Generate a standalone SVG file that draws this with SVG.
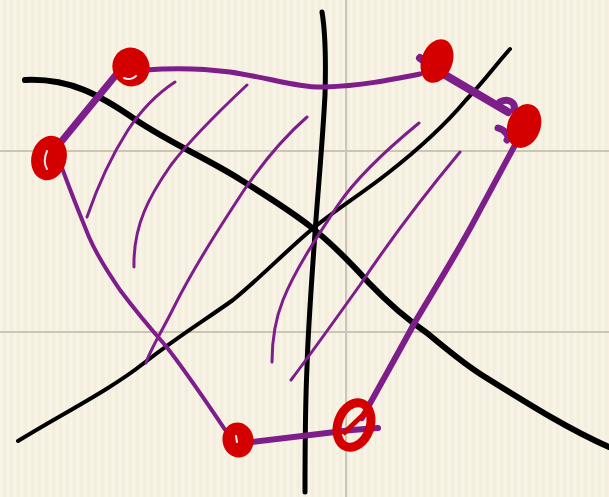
<svg xmlns="http://www.w3.org/2000/svg" width="609" height="497" viewBox="0 0 609 497">
<defs>
<pattern id="paper" width="7" height="497" patternUnits="userSpaceOnUse">
<rect width="7" height="497" fill="#f6f0e1"/>
<rect x="0" width="2" height="497" fill="#f9f4e8"/>
<rect x="4" width="1" height="497" fill="#f2ecdc"/>
</pattern>
<style>
.grid{stroke:#cbc5b6;stroke-width:2;fill:none}
.ink{stroke:#000;fill:none;stroke-linecap:round;stroke-linejoin:round}
.edge{stroke:#7d1e8b;fill:none;stroke-linecap:round;stroke-linejoin:round}
.hatch{stroke:#7d1e8b;fill:none;stroke-width:3;stroke-linecap:round}
.dot{fill:#d40000;stroke:#d40000;stroke-width:3}
.gap{stroke:#f1e8f0;stroke-width:2;fill:none;stroke-linecap:round}
</style>
</defs>
<rect width="609" height="497" fill="url(#paper)"/>
<line class="grid" x1="0" y1="151" x2="609" y2="151"/>
<line class="grid" x1="0" y1="332" x2="609" y2="332"/>
<line class="grid" x1="346" y1="0" x2="346" y2="497"/>

<g id="axes">
<path class="ink" stroke-width="6" d="M25,80 C70,78 100,95 136,120 C170,143 210,160 241,180 C270,198 292,212 311,227 C330,242 350,262 369,283 C390,305 405,318 427,333 C450,352 465,365 485,377 C530,405 570,430 609,447"/>
<path class="ink" stroke-width="4" d="M18,441 C60,415 110,390 144,363 C180,335 205,320 233,300 C260,278 285,252 311,230 C335,210 360,195 388,173 C420,148 445,125 466,100 C485,80 498,62 510,49"/>
<path class="ink" stroke-width="5" d="M322,12 C325,30 326,60 325,95 C322,150 318,190 315,233 C311,290 308,330 307,367 C305,410 305,450 305,492"/>
</g>

<g id="hatching">
<path class="hatch" d="M175,82 C155,95 140,112 128,130 C112,155 98,185 87,217"/>
<path class="hatch" d="M247,85 C215,115 190,140 171,165 C150,195 133,225 134,267"/>
<path class="hatch" d="M307,117 C275,145 250,180 233,207 C205,250 185,285 175,305 C160,335 150,350 146,363"/>
<path class="hatch" d="M419,123 C380,155 355,180 338,205 C315,240 295,270 283,300 C275,320 272,340 272,362"/>
<path class="hatch" d="M460,152 C420,200 390,240 360,285 C335,320 310,355 291,380"/>
</g>

<g id="connectors">
<path class="edge" stroke-width="5" d="M145,70 C170,68 200,68 230,72 C270,78 300,88 325,87 C360,86 390,80 420,74"/>
<path class="edge" stroke-width="7" d="M120,70 L56,148"/>
<path class="edge" stroke-width="4" d="M62,168 C72,195 80,215 89,237 C98,258 108,272 120,290 C135,310 150,328 165,345 C185,370 205,400 228,434"/>
<path class="edge" stroke-width="6" d="M244,443 L352,430 L378,428"/>
<path class="edge" stroke-width="6" d="M362,418 C380,385 400,350 415,322 C440,280 462,245 480,210 C497,178 507,160 515,145"/>
<path class="edge" stroke-width="8" d="M420,58 L440,72 L508,112"/>
<path class="edge" stroke-width="7" d="M500,102 C508,98 516,102 514,110 M498,128 C505,130 510,136 507,140"/>
</g>

<g id="node-a">
<ellipse class="dot" cx="131" cy="67" rx="17" ry="18" transform="rotate(-20 131 67)"/>
<path class="gap" d="M124,78 C128,80 133,79 136,76"/>
</g>
<g id="node-b">
<ellipse class="dot" cx="49" cy="158" rx="16" ry="21" transform="rotate(15 49 158)"/>
<path class="gap" d="M47,151 C44,158 44,164 47,169"/>
</g>
<g id="node-f">
<ellipse class="dot" cx="437" cy="61" rx="14" ry="21" transform="rotate(20 437 61)"/>
</g>
<g id="node-e">
<ellipse class="dot" cx="524" cy="126" rx="15" ry="21" transform="rotate(20 524 126)"/>
</g>
<g id="node-c">
<ellipse class="dot" cx="238" cy="440" rx="14" ry="16" transform="rotate(-10 238 440)"/>
<path class="gap" d="M236,436 L237,442"/>
</g>
<g id="node-d">
<ellipse fill="none" stroke="#d40000" stroke-width="9" cx="354" cy="425" rx="16" ry="23" transform="rotate(20 354 425)"/>
<path fill="none" stroke="#d40000" stroke-width="5" d="M343,434 L366,412"/>
</g>
</svg>
